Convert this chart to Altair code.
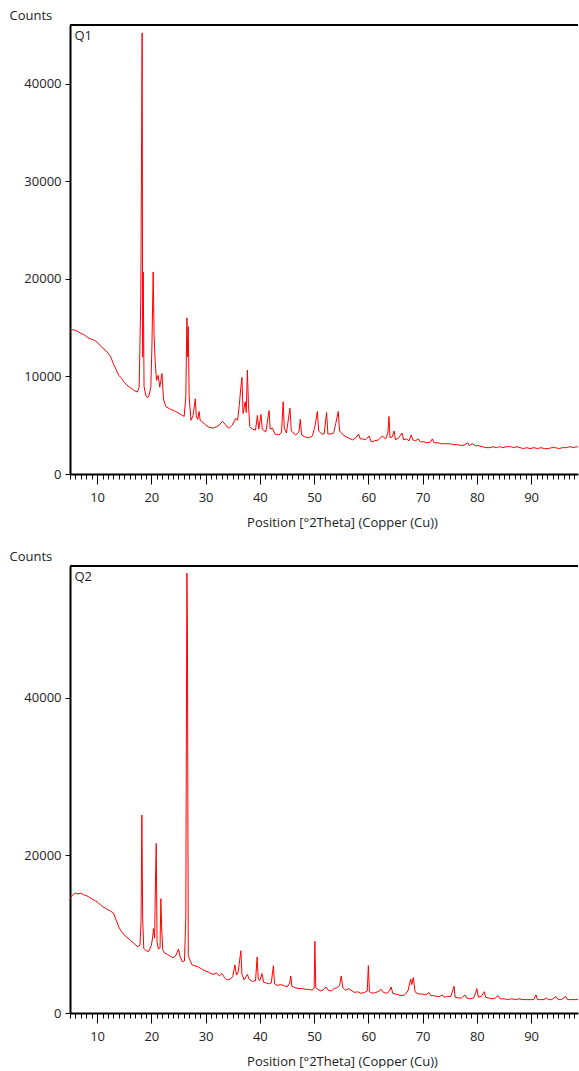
import altair as alt
import pandas as pd

# ---------------- data ----------------
q1_pos = [5.0, 5.5, 6.0, 6.5, 7.0, 7.5, 8.0, 8.5, 9.0, 9.5, 10.0, 10.5, 11.0, 11.5, 12.0, 12.5,
          13.0, 13.5, 14.0, 14.5, 15.0, 15.5, 16.0, 16.5, 17.0, 17.4, 17.75, 18.05, 18.3, 18.4,
          18.5, 18.65, 19.0, 19.3, 19.6, 19.9, 20.1, 20.33, 20.5, 20.7, 20.95, 21.25, 21.55, 21.95,
          22.25, 22.7, 23.3, 23.9, 24.5, 25.1, 25.6, 26.05, 26.35, 26.55, 26.68, 26.8, 26.97, 27.3,
          27.7, 28.1, 28.3, 28.55, 28.8, 29.0, 29.5, 30.05, 30.6, 31.3, 31.9, 32.5, 33.1, 33.6,
          34.0, 34.35, 34.9, 35.57, 35.9, 36.2, 36.5, 36.7, 36.9, 37.3, 37.5, 37.7, 37.9, 38.15,
          38.6, 39.2, 39.55, 39.8, 40.2, 40.45, 41.1, 41.7, 41.9, 42.3, 42.8, 43.55, 44.0, 44.3,
          44.5, 44.9, 45.55, 45.8, 46.6, 47.2, 47.45, 47.7, 48.3, 49.1, 49.7, 50.2, 50.6, 50.85,
          51.4, 51.85, 52.3, 52.55, 53.1, 53.6, 54.0, 54.45, 54.7, 55.55, 56.3, 57.1, 57.7, 58.2,
          58.5, 58.9, 59.5, 60.15, 60.5, 61.2, 61.9, 62.6, 63.2, 63.6, 63.8, 64.0, 64.4, 64.75,
          65.0, 65.6, 66.2, 66.5, 67.0, 67.5, 67.9, 68.2, 68.7, 69.2, 69.6, 70.2, 70.8, 71.5,
          71.8, 72.1, 72.8, 73.5, 74.2, 75.0, 75.8, 76.5, 77.2, 77.8, 78.3, 78.6, 79.2, 79.7,
          80.3, 81.0, 81.7, 82.4, 83.0, 83.6, 84.2, 84.8, 85.5, 86.2, 86.8, 87.4, 88.0, 88.6,
          89.2, 89.8, 90.5, 91.2, 91.8, 92.5, 93.2, 93.8, 94.5, 95.2, 95.8, 96.5, 97.2, 97.8,
          98.4, 98.8]
q1_counts = [14600, 14800, 14700, 14600, 14400, 14300, 14100, 13900, 13800, 13700, 13500, 13200,
             12900, 12700, 12400, 12000, 11300, 10700, 10100, 9800, 9400, 9100, 8900, 8700, 8500,
             8400, 8900, 18000, 45200, 12000, 20700, 9000, 8000, 7800, 8100, 8900, 13000, 20700,
             14200, 11500, 9600, 10100, 8900, 10300, 7600, 6900, 6700, 6550, 6400, 6200, 6050,
             5900, 7900, 16000, 12000, 15100, 7900, 5500, 6000, 7700, 5800, 5600, 6400, 5500,
             5300, 5000, 4800, 4700, 4800, 5000, 5400, 5100, 4800, 4700, 5000, 5700, 5500, 7000,
             8900, 9900, 6200, 7400, 6300, 10650, 7100, 4850, 4600, 4500, 6000, 4600, 6100, 4600,
             4300, 6500, 4600, 4700, 4100, 4000, 4300, 7400, 4700, 4200, 6750, 4400, 4000, 4300,
             5600, 4000, 3800, 3700, 3900, 5000, 6400, 4400, 4100, 4100, 6300, 4100, 4100, 4200,
             5200, 6400, 4400, 3900, 3700, 3500, 3700, 4100, 3600, 3600, 3500, 3900, 3300, 3400,
             3500, 3900, 3600, 4200, 5900, 3700, 3800, 4400, 3500, 3700, 4200, 3500, 3600, 3400,
             4000, 3500, 3400, 3600, 3300, 3300, 3200, 3300, 3600, 3200, 3200, 3100, 3100, 3100,
             3000, 3000, 2900, 3000, 3200, 2900, 3100, 2900, 2900, 2800, 2700, 2700, 2800, 2700,
             2800, 2700, 2800, 2800, 2700, 2800, 2700, 2600, 2700, 2600, 2700, 2600, 2700, 2600,
             2600, 2700, 2700, 2600, 2700, 2700, 2800, 2700, 2800, 2700]

q2_pos = [5.0, 5.5, 6.0, 6.5, 7.0, 7.5, 8.0, 8.5, 9.0, 9.5, 10.0, 10.5, 11.0, 11.5, 12.0, 12.5,
          13.0, 13.5, 14.0, 14.5, 15.0, 15.5, 16.0, 16.5, 17.0, 17.5, 17.9, 18.1, 18.25, 18.4,
          18.6, 19.0, 19.5, 20.0, 20.2, 20.4, 20.6, 20.75, 20.9, 21.05, 21.3, 21.6, 21.75, 21.9,
          22.1, 22.5, 23.0, 23.5, 24.0, 24.5, 25.0, 25.3, 25.7, 26.1, 26.35, 26.55, 26.65, 26.8,
          27.0, 27.5, 28.0, 28.5, 29.0, 29.5, 30.0, 30.5, 31.0, 31.5, 32.0, 32.5, 33.0, 33.5,
          34.0, 34.5, 35.0, 35.4, 35.7, 36.0, 36.5, 36.7, 37.1, 37.7, 38.0, 38.6, 39.2, 39.5,
          39.7, 40.0, 40.4, 40.7, 41.2, 41.7, 42.1, 42.5, 42.7, 43.2, 43.8, 44.4, 45.0, 45.5,
          45.7, 45.9, 46.5, 47.2, 47.8, 48.5, 49.0, 49.6, 50.0, 50.15, 50.3, 50.7, 51.2, 51.8,
          52.2, 52.6, 53.2, 53.7, 54.2, 54.7, 55.0, 55.3, 55.8, 56.4, 57.0, 57.5, 58.0, 58.6,
          59.3, 59.8, 60.0, 60.2, 60.7, 61.3, 61.8, 62.4, 62.8, 63.4, 63.9, 64.2, 64.5, 65.0,
          65.6, 66.2, 66.7, 67.3, 67.8, 68.0, 68.3, 68.6, 69.0, 69.5, 70.0, 70.6, 71.2, 71.5,
          72.0, 72.6, 73.2, 73.6, 74.0, 74.6, 75.2, 75.8, 76.0, 76.6, 77.2, 77.8, 78.1, 78.7,
          79.4, 79.8, 80.0, 80.3, 80.8, 81.4, 81.6, 82.2, 82.8, 83.4, 83.9, 84.3, 85.0, 85.7,
          86.4, 87.1, 87.8, 88.5, 89.2, 89.9, 90.5, 90.9, 91.2, 91.8, 92.4, 92.8, 93.2, 93.8,
          94.6, 95.0, 95.6, 96.4, 96.7, 97.3, 97.9, 98.5, 98.8]
q2_counts = [14500, 15000, 15200, 15100, 15200, 15000, 14900, 14700, 14500, 14300, 14100, 13800,
             13500, 13300, 13100, 12900, 12700, 11800, 10900, 10300, 9900, 9600, 9300, 9000, 8700,
             8400, 8600, 11600, 25100, 11900, 8200, 7900, 7800, 8600, 9400, 10700, 9500, 16400,
             21500, 9000, 8100, 8300, 14500, 10800, 8000, 7600, 7400, 7200, 7000, 7300, 8100,
             7200, 6500, 6600, 12200, 55800, 48500, 7300, 6900, 6100, 6000, 5900, 5700, 5500,
             5300, 5200, 5000, 4900, 5100, 4700, 5000, 4500, 4200, 4300, 4600, 6100, 4800, 5200,
             7900, 4900, 4200, 4900, 4300, 4000, 4100, 7100, 4300, 4100, 5000, 3900, 3800, 3700,
             3800, 6000, 3700, 3500, 3600, 3500, 3300, 3800, 4700, 3400, 3200, 3100, 3100, 3000,
             3000, 2900, 3100, 9100, 3200, 3000, 2800, 3000, 3300, 2900, 2800, 3100, 3200, 3500,
             4700, 3200, 2900, 3100, 2800, 2600, 2700, 2500, 2600, 2800, 6000, 2700, 2500, 2600,
             2700, 3000, 2600, 2500, 2800, 3300, 2500, 2400, 2300, 2200, 2300, 2800, 4300, 3600,
             4500, 2700, 2500, 2400, 2400, 2300, 2600, 2200, 2200, 2100, 2100, 2300, 2000, 2100,
             2100, 3400, 2000, 1900, 1900, 2300, 1900, 1800, 1900, 2600, 3100, 2000, 2100, 2700,
             2000, 1900, 1800, 1900, 2200, 1800, 1800, 1700, 1800, 1700, 1800, 1700, 1700, 1700,
             1700, 2300, 1700, 1700, 1700, 1900, 1700, 1700, 2100, 1700, 1700, 2100, 1700, 1700,
             1700, 1700, 1700]

x_major = [10, 20, 30, 40, 50, 60, 70, 80, 90]
x_minor = list(range(5, 99))
q1_yticks = [0, 10000, 20000, 30000, 40000]
q2_yticks = [0, 20000, 40000]

FONT = "Open Sans"
TXT = "#222222"
XMIN, XMAX = 5, 98.65
W = 508


def panel(pos, counts, label, ymax, yticks, height):
    df = pd.DataFrame({"pos": pos, "counts": counts})
    xscale = alt.Scale(domain=[XMIN, XMAX], nice=False, zero=False)
    yscale = alt.Scale(domain=[0, ymax], nice=False, zero=True)

    line = alt.Chart(df).mark_line(color="#ff0000", strokeWidth=1, clip=True).encode(
        x=alt.X("pos:Q", scale=xscale,
                axis=alt.Axis(values=x_major, tickSize=10, tickColor="black", tickWidth=1,
                              domainColor="black", domainWidth=2, grid=False,
                              labelFont=FONT, labelFontSize=13, labelColor=TXT, labelPadding=7,
                              labelFlush=False, orient="bottom",
                              title="Position [°2Theta] (Copper (Cu))", titleFont=FONT,
                              titleFontSize=13, titleFontWeight="normal", titleColor=TXT,
                              titleX=272, titleY=48, titleAlign="center",
                              titleBaseline="middle")),
        y=alt.Y("counts:Q", scale=yscale,
                axis=alt.Axis(values=yticks, format="d", tickSize=5, tickColor="black",
                              tickWidth=1, domainColor="black", domainWidth=2, grid=False,
                              labelFont=FONT, labelFontSize=13, labelColor=TXT, labelPadding=4,
                              title="Counts", titleFont=FONT, titleFontSize=13,
                              titleFontWeight="normal", titleColor=TXT, titleAngle=0,
                              titleAlign="left", titleBaseline="alphabetic",
                              titleX=-61, titleY=-6)),
    )

    minor = alt.Chart(alt.Data(values=[{"pos": 50}])).mark_point(opacity=0).encode(
        x=alt.X("pos:Q", scale=xscale,
                axis=alt.Axis(values=x_minor, tickSize=5, tickColor="black", tickWidth=1,
                              labels=False, domain=False, grid=False, title=None,
                              orient="bottom")),
    )

    top = alt.Chart(alt.Data(values=[{"a": 1}])).mark_rule(color="black", strokeWidth=2).encode(
        y=alt.value(0)
    )

    lab = alt.Chart(alt.Data(values=[{"t": label}])).mark_text(
        align="left", baseline="middle", font=FONT, fontSize=13, color=TXT
    ).encode(x=alt.value(4.5), y=alt.value(10.5), text="t:N")

    return alt.layer(line, minor, top, lab).resolve_axis(x="independent").properties(
        width=W, height=height
    )


p1 = panel(q1_pos, q1_counts, "Q1", 46000, q1_yticks, 449)
p2 = panel(q2_pos, q2_counts, "Q2", 56700, q2_yticks, 447)

chart = alt.vconcat(p1, p2, spacing=21).properties(
    padding={"left": 9, "top": 9, "right": 0, "bottom": 0}
).configure_view(stroke=None)

chart.save("out.html", embed_options={"renderer": "svg", "actions": False})
